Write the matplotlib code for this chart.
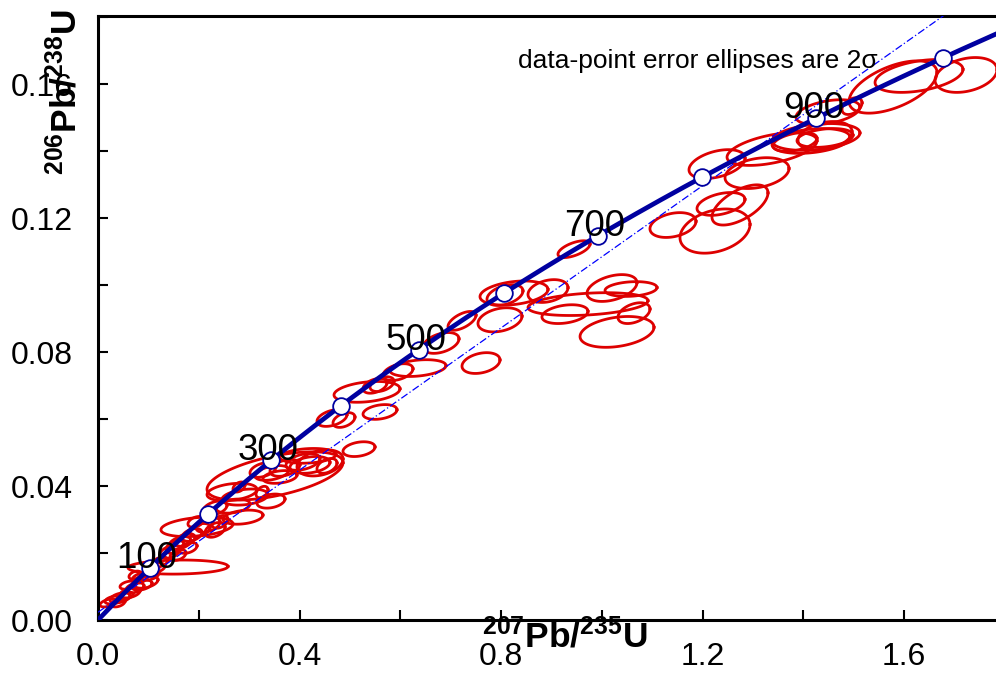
import numpy as np
import matplotlib
matplotlib.use("Agg")
import matplotlib.pyplot as plt
from matplotlib.ticker import MultipleLocator, FormatStrFormatter

plt.rcParams['font.family'] = ['Liberation Sans', 'DejaVu Sans']
plt.rcParams['mathtext.fontset'] = 'custom'
plt.rcParams['mathtext.rm'] = 'Liberation Sans'
plt.rcParams['mathtext.bf'] = 'Liberation Sans:bold'

# ---- data ----
lambda238 = 1.55125e-4   # per Ma
lambda235 = 9.8485e-4    # per Ma
marker_ages = [100, 200, 300, 400, 500, 600, 700, 800, 900, 1000]
label_ages = [100, 300, 500, 700, 900]
curve_age_max = 1150

# reference (dash-dot) line: intercept, slope
ref_intercept = 0.0023
ref_slope = 0.1061

# error ellipses: centre 207Pb/235U, centre 206Pb/238U, half-extent x, half-extent y, rho
ell_x = [0.0199, 0.0318, 0.0437, 0.0536, 0.0397, 0.0635, 0.0734, 0.0596, 0.0873, 0.0834,
         0.1032, 0.0953, 0.0734, 0.1132, 0.1231, 0.1588,
         0.1965, 0.1429, 0.1529, 0.1628, 0.1727, 0.1787, 0.1588, 0.1866, 0.2025, 0.1945,
         0.2184, 0.2323, 0.2422,
         0.2323, 0.2918, 0.3434, 0.2680, 0.2878, 0.2799, 0.3256, 0.2660,
         0.3514, 0.3275, 0.3454, 0.3712, 0.4069, 0.4208, 0.4407, 0.4546, 0.3613, 0.5181, 0.4169,
         0.4645, 0.4883, 0.5598, 0.5340, 0.5499, 0.5955, 0.6352, 0.5638, 0.6809, 0.7226, 0.7603, 0.7980,
         0.8258, 0.8079, 0.8933, 0.9727, 0.9270, 1.0203, 1.0581, 1.0640, 1.0303,
         0.9449,
         1.2288, 1.3380, 1.3082, 1.2367, 1.2744, 1.1414, 1.2248, 1.4154, 1.3836, 1.4432,
         1.4253, 1.4491, 1.4968, 1.4432, 1.5782, 1.6298, 1.7231]
ell_y = [0.0051, 0.0060, 0.0066, 0.0072, 0.0051, 0.0081, 0.0096, 0.0104, 0.0104, 0.0125,
         0.0134, 0.0113, 0.0134, 0.0155, 0.0173, 0.0158,
         0.0278, 0.0203, 0.0218, 0.0230, 0.0239, 0.0215, 0.0194, 0.0254, 0.0269, 0.0293,
         0.0284, 0.0269, 0.0293,
         0.0334, 0.0367, 0.0355, 0.0340, 0.0307, 0.0397, 0.0382, 0.0382,
         0.0430, 0.0448, 0.0439, 0.0454, 0.0472, 0.0463, 0.0469, 0.0460, 0.0427, 0.0510, 0.0490,
         0.0603, 0.0597, 0.0621, 0.0681, 0.0699, 0.0740, 0.0752, 0.0704, 0.0827, 0.0893, 0.0767, 0.0896,
         0.0976, 0.0970, 0.0982, 0.0943, 0.0913, 0.0991, 0.0988, 0.0916, 0.0860,
         0.1107,
         0.1361, 0.1406, 0.1334, 0.1242, 0.1239, 0.1179, 0.1161, 0.1430, 0.1427, 0.1439,
         0.1442, 0.1516, 0.1534, 0.1445, 0.1591, 0.1624, 0.1627]
ell_sx = [0.0159, 0.0179, 0.0199, 0.0159, 0.0139, 0.0199, 0.0179, 0.0159, 0.0199, 0.0159,
          0.0179, 0.0238, 0.0119, 0.0199, 0.0159, 0.0993,
          0.0715, 0.0199, 0.0179, 0.0218, 0.0199, 0.0179, 0.0159, 0.0199, 0.0199, 0.0159,
          0.0238, 0.0199, 0.0159,
          0.0238, 0.0457, 0.0278, 0.0337, 0.0397, 0.0119, 0.0119, 0.0496,
          0.1350, 0.0258, 0.0337, 0.0298, 0.0337, 0.0397, 0.0457, 0.0199, 0.0337, 0.0318, 0.0556,
          0.0298, 0.0218, 0.0337, 0.0655, 0.0238, 0.0298, 0.0556, 0.0238, 0.0357, 0.0278, 0.0377, 0.0437,
          0.0675, 0.0357, 0.0397, 0.1191, 0.0457, 0.0496, 0.0516, 0.0318, 0.0734,
          0.0318,
          0.0556, 0.0893, 0.0635, 0.0476, 0.0556, 0.0457, 0.0695, 0.0774, 0.0437, 0.0556,
          0.0873, 0.0635, 0.0199, 0.0536, 0.0873, 0.0873, 0.0615]
ell_sy = [0.0012, 0.0012, 0.0015, 0.0012, 0.0012, 0.0015, 0.0015, 0.0012, 0.0015, 0.0015,
          0.0015, 0.0018, 0.0012, 0.0015, 0.0015, 0.0021,
          0.0029, 0.0019, 0.0019, 0.0019, 0.0019, 0.0016, 0.0016, 0.0019, 0.0019, 0.0016,
          0.0022, 0.0022, 0.0019,
          0.0021, 0.0024, 0.0021, 0.0021, 0.0021, 0.0015, 0.0017, 0.0026,
          0.0072, 0.0022, 0.0022, 0.0025, 0.0025, 0.0025, 0.0039, 0.0022, 0.0019, 0.0022, 0.0022,
          0.0025, 0.0022, 0.0022, 0.0031, 0.0022, 0.0025, 0.0025, 0.0022, 0.0031, 0.0028, 0.0031, 0.0036,
          0.0036, 0.0031, 0.0034, 0.0034, 0.0028, 0.0040, 0.0022, 0.0031, 0.0046,
          0.0025,
          0.0043, 0.0049, 0.0046, 0.0034, 0.0060, 0.0037, 0.0066, 0.0037, 0.0028, 0.0028,
          0.0040, 0.0037, 0.0025, 0.0043, 0.0078, 0.0049, 0.0052]
ell_rho = [0.5, 0.4, 0.4, 0.4, 0.4, 0.4, 0.4, 0.4, 0.4, 0.4,
           0.4, 0.4, 0.4, 0.4, 0.4, 0.1,
           0.3, 0.4, 0.4, 0.4, 0.4, 0.4, 0.4, 0.4, 0.4, 0.4,
           0.4, 0.4, 0.4,
           0.4, 0.3, 0.3, 0.3, 0.3, 0.4, 0.4, 0.3,
           0.55, 0.4, 0.4, 0.4, 0.4, 0.3, 0.3, 0.4, 0.3, 0.3, 0.2,
           0.4, 0.4, 0.3, 0.3, 0.4, 0.4, 0.3, 0.4, 0.4, 0.6, 0.3, 0.3,
           0.3, 0.4, 0.3, 0.3, 0.3, 0.4, 0.2, 0.4, 0.3,
           0.6,
           0.4, 0.5, 0.3, 0.4, 0.6, 0.3, 0.3, 0.3, 0.4, 0.3,
           0.3, 0.4, 0.4, 0.3, 0.55, 0.4, 0.3]

# ---- figure ----
W, H = 996, 673
fig = plt.figure(figsize=(W / 100, H / 100), dpi=100)
ax = fig.add_axes([98 / W, (H - 620) / H, 1 - 98 / W, (620 - 16) / H])

navy = '#0000a0'
red = '#dd0000'

# ellipses
tt = np.linspace(0, 2 * np.pi, 120)
for cx, cy, sx, sy, r in zip(ell_x, ell_y, ell_sx, ell_sy, ell_rho):
    ex = cx + sx * np.cos(tt)
    ey = cy + sy * (r * np.cos(tt) + np.sqrt(1 - r * r) * np.sin(tt))
    ax.plot(ex, ey, color=red, lw=2.0, zorder=2)

# reference dash-dot line
xl = np.array([0, 1.8])
ax.plot(xl, ref_intercept + ref_slope * xl, color='#0000ff', lw=0.9,
        linestyle=(0, (6, 2, 1, 2)), zorder=3)

# concordia curve
t = np.linspace(0, curve_age_max, 400)
ax.plot(np.exp(lambda235 * t) - 1, np.exp(lambda238 * t) - 1, color=navy, lw=3.4,
        zorder=4, solid_capstyle='butt')

ma = np.array(marker_ages, dtype=float)
ax.plot(np.exp(lambda235 * ma) - 1, np.exp(lambda238 * ma) - 1, 'o', ms=12,
        mfc='white', mec=navy, mew=1.3, zorder=5)

for a in label_ages:
    ax.text(np.exp(lambda235 * a) - 1 - 0.006, np.exp(lambda238 * a) - 1, str(a),
            fontsize=26.5, ha='center', va='baseline', zorder=6)

ax.set_xlim(0, (W - 98) / 503.75)
ax.set_ylim(0, (620 - 16) / 3350)

ax.xaxis.set_major_locator(MultipleLocator(0.4))
ax.xaxis.set_minor_locator(MultipleLocator(0.2))
ax.yaxis.set_major_locator(MultipleLocator(0.04))
ax.yaxis.set_minor_locator(MultipleLocator(0.02))
ax.xaxis.set_major_formatter(FormatStrFormatter('%.1f'))
ax.yaxis.set_major_formatter(FormatStrFormatter('%.2f'))
ax.tick_params(which='both', direction='in', length=7, width=1.5, top=False, right=False)
ax.tick_params(axis='x', which='major', labelsize=23, pad=16)
ax.tick_params(axis='y', which='major', labelsize=23, pad=18)
for s in ['left', 'bottom', 'top']:
    ax.spines[s].set_linewidth(2.2)
ax.spines['right'].set_visible(False)

fig.text(565 / W, 1 - 647 / H, r'$\mathbf{^{207}Pb/^{235}U}$', fontsize=25.5,
         ha='center', va='baseline')
fig.text(65 / W, 1 - 92 / H, r'$\mathbf{^{206}Pb/^{238}U}$', fontsize=25.5,
         ha='center', va='center', rotation=90)
fig.text(518 / W, 1 - 68 / H, 'data-point error ellipses are 2σ', fontsize=19,
         ha='left', va='baseline')

fig.savefig('out.png', dpi=100)
